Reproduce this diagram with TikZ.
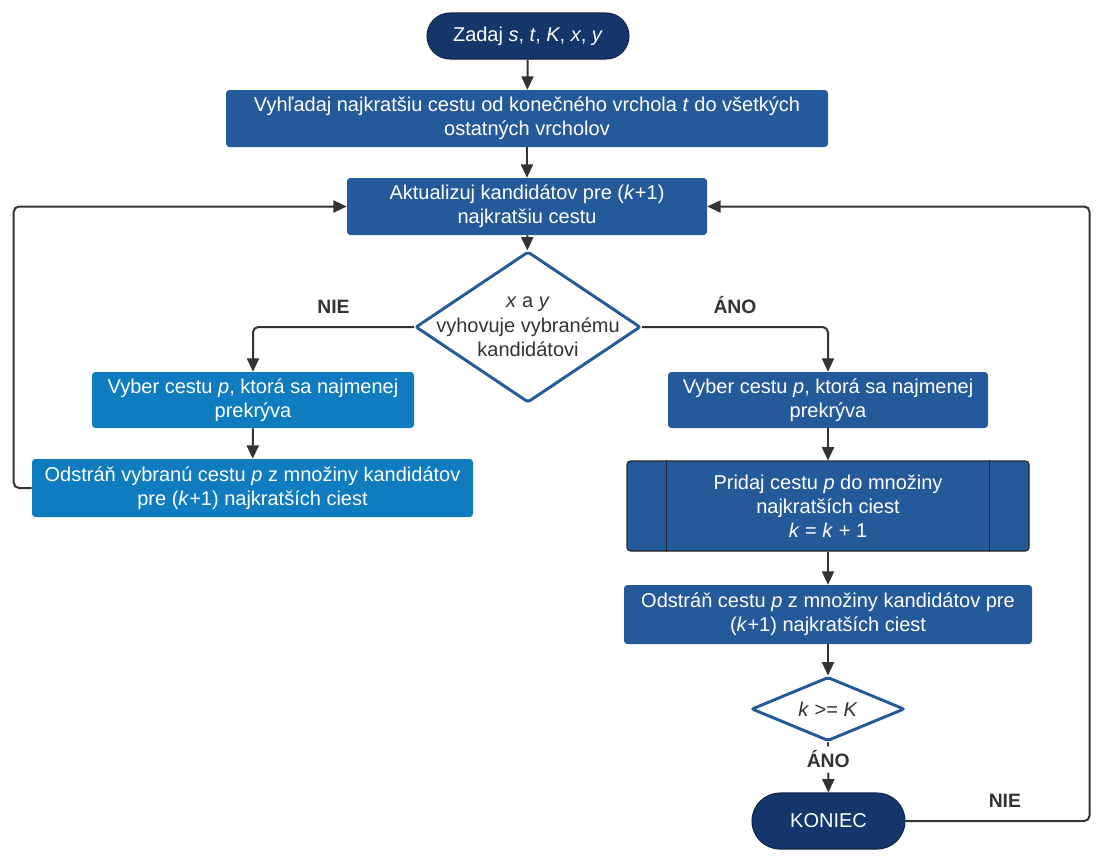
\documentclass[tikz,border=0pt]{standalone}
\usepackage{fontspec}
\setmainfont{Liberation Sans}
\usetikzlibrary{shapes.geometric,shapes.misc,arrows.meta}
\definecolor{navy}{HTML}{14366B}
\definecolor{boxblue}{HTML}{255A9A}
\definecolor{lightblue}{HTML}{0E7CBE}
\definecolor{linegray}{HTML}{333333}

\begin{document}
\begin{tikzpicture}[x=0.75pt, y=-0.75pt,
		font=\fontsize{15}{18}\selectfont,
		term/.style={rounded rectangle, fill=navy, draw=navy!70!black, line width=0.8pt, text=white, inner sep=0pt},
		proc/.style={rectangle, rounded corners=2.5pt, fill=boxblue, text=white, align=center, inner sep=0pt},
		lproc/.style={proc, fill=lightblue},
		dec/.style={diamond, draw=boxblue, line width=2.2pt, rounded corners=1.5pt, fill=white, inner sep=0pt},
		dectext/.style={align=center, text=linegray, font=\fontsize{15}{18.4}\selectfont},
		lbl/.style={font=\fontsize{14.5}{16}\selectfont\bfseries, text=linegray},
		arr/.style={-{Triangle[length=10pt,width=9pt]}, line width=1.5pt, draw=linegray, rounded corners=4pt}]
		\useasboundingbox (0,0) rectangle (1106,861);

		\node [term, minimum width=151.5pt, minimum height=34.5pt] (start) at (528,36) {Zadaj \textit{s}, \textit{t}, \textit{K}, \textit{x}, \textit{y}};
		\node [proc, minimum width=451.5pt, minimum height=42.75pt] (search) at (527,118.5) {Vyhľadaj najkratšiu cestu od konečného vrchola \textit{t} do všetkých\\ostatných vrcholov};
		\node [proc, minimum width=270pt, minimum height=42.75pt] (update) at (527,206.5) {Aktualizuj kandidátov pre (\textit{k}+1)\\najkratšiu cestu};
		\node [dec, minimum width=168.75pt, minimum height=113.25pt] (match) at (528,327) {};
		\node [dectext] (matchtxt) at (match) {\textit{x} a \textit{y}\\vyhovuje vybranému\\kandidátovi};

		\node [lproc, minimum width=241.5pt, minimum height=42pt] (pickL) at (253,400) {Vyber cestu \textit{p}, ktorá sa najmenej\\prekrýva};
		\node [lproc, minimum width=330.75pt, minimum height=43.5pt] (removeL) at (252.5,488) {Odstráň vybranú cestu \textit{p} z množiny kandidátov\\pre (\textit{k}+1) najkratších ciest};

		\node [proc, minimum width=240pt, minimum height=42pt] (pickR) at (828,400) {Vyber cestu \textit{p}, ktorá sa najmenej\\prekrýva};
		\node [proc, draw=black!85, line width=0.8pt, minimum width=301.5pt, minimum height=67.5pt] (add) at (828,506) {Pridaj cestu \textit{p} do množiny\\najkratších ciest\\\textit{k} = \textit{k} + 1};
		\node [proc, minimum width=306pt, minimum height=44.25pt] (removeR) at (828,614.5) {Odstráň cestu \textit{p} z množiny kandidátov pre\\(\textit{k}+1) najkratších ciest};
		\node [dec, minimum width=114.75pt, minimum height=48pt] (check) at (828,709) {};
		\node [dectext] (checktxt) at (check) {\textit{k} >= \textit{K}};
		\node [term, minimum width=114.75pt, minimum height=42pt] (stop) at (828.5,821) {KONIEC};

		\draw [black!85, line width=0.8pt] ([xshift=30pt]add.north west) -- ([xshift=30pt]add.south west);
		\draw [black!85, line width=0.8pt] ([xshift=-30pt]add.north east) -- ([xshift=-30pt]add.south east);

		\draw [arr] (start) -- (search);
		\draw [arr] (search) -- (update);
		\draw [arr] (update) -- (match);
		\draw [arr] (match.west) -| node [lbl, above=6pt, pos=0.25] {NIE} (pickL.north);
		\draw [arr] (match.east) -| node [lbl, above=6pt, pos=0.25] {ÁNO} (pickR.north);
		\draw [arr] (pickL) -- (removeL);
		\draw [arr] (removeL.west) -- ++(-18,0) |- (update.west);
		\draw [arr] (pickR) -- (add);
		\draw [arr] (add) -- (removeR);
		\draw [arr] (removeR) -- (check);
		\draw [arr] (check) -- node [lbl, fill=white, pos=0.34] {ÁNO} (stop);
		\draw [arr] (stop.east) -- node [lbl, above=6pt, pos=0.54] {NIE} ++(184,0) |- (update.east);
	\end{tikzpicture}
\end{document}
